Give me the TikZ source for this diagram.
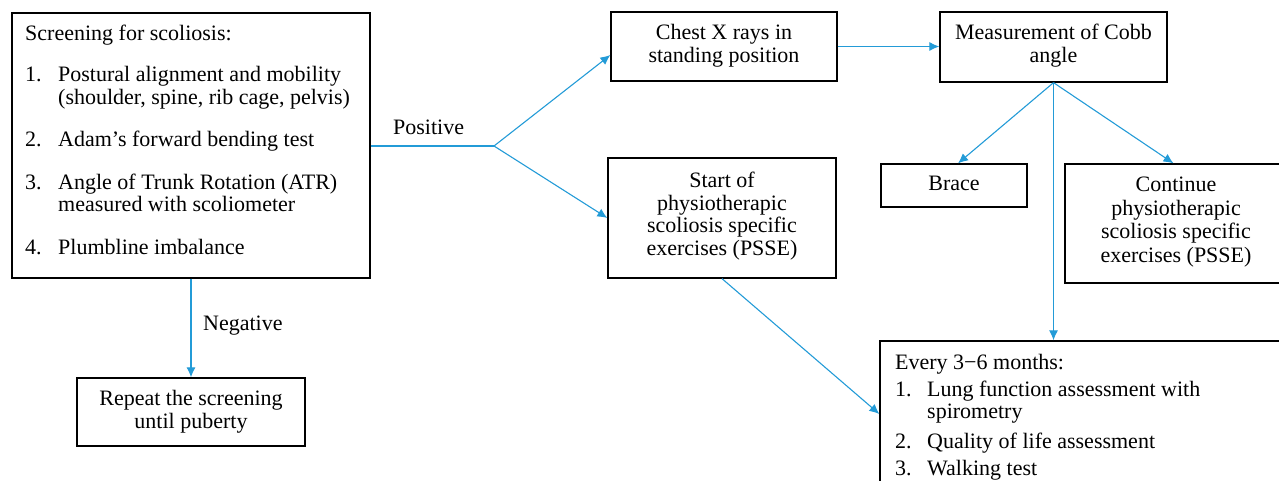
\documentclass[tikz,border=0pt]{standalone}
\usepackage{fontspec}
\setmainfont{Liberation Serif}
\usetikzlibrary{arrows.meta,calc}
\definecolor{flowblue}{RGB}{35,155,215}
\tikzset{
  box/.style={draw=black,line width=1.3pt,rectangle,inner sep=0pt,fill=none},
  txt/.style={inner sep=0pt,font=\fontsize{22}{22.5}\selectfont},
  conn/.style={draw=flowblue,line width=1.1pt},
  arr/.style={conn,-{Latex[length=10pt,width=9pt]}}
}
\begin{document}
\begin{tikzpicture}[x=1pt,y=-1pt]
\useasboundingbox (0,0) rectangle (1279,481);
\clip (0,0) rectangle (1279,481);
% boxes
\node[box,minimum width=358pt,minimum height=265pt] (scr) at (191,145.5) {};
\node[box,minimum width=228pt,minimum height=68pt] (rep) at (191,412) {};
\node[box,minimum width=226pt,minimum height=69pt] (chest) at (724,46.5) {};
\node[box,minimum width=227pt,minimum height=70pt] (cobb) at (1053.5,47) {};
\node[box,minimum width=228pt,minimum height=120pt] (psse) at (722,218) {};
\node[box,minimum width=146pt,minimum height=43pt] (brace) at (954,185.5) {};
\node[box,minimum width=217pt,minimum height=119pt] (cont) at (1173.5,223.5) {};
\node[box,minimum width=410pt,minimum height=146pt] (every) at (1085,414) {};
% texts
\node[txt,anchor=base west] (scrt) at (25,40.5) {\begin{tabular}[t]{@{}p{33pt}@{}l@{}}
\multicolumn{2}{@{}l@{}}{Screening for scoliosis:}\\[19pt]
1. & Postural alignment and mobility\\
   & (shoulder, spine, rib cage, pelvis)\\[20pt]
2. & Adam's forward bending test\\[20pt]
3. & Angle of Trunk Rotation (ATR)\\
   & measured with scoliometer\\[20.5pt]
4. & Plumbline imbalance
\end{tabular}};
\node[txt,anchor=base] (rept) at (191,405.5) {\begin{tabular}[t]{@{}c@{}}Repeat the screening\\ until puberty\end{tabular}};
\node[txt,anchor=base] (chestt) at (724,40) {\begin{tabular}[t]{@{}c@{}}Chest X rays in\\ standing position\end{tabular}};
\node[txt,anchor=base] (cobbt) at (1053.5,40) {\begin{tabular}[t]{@{}c@{}}Measurement of Cobb\\ angle\end{tabular}};
\node[txt,anchor=base] (psset) at (722,188) {\begin{tabular}[t]{@{}c@{}}Start of\\ physiotherapic\\ scoliosis specific\\ exercises (PSSE)\end{tabular}};
\node[txt,anchor=base] (bracet) at (954,191) {Brace};
\node[txt,anchor=base] (contt) at (1176,192) {\begin{tabular}[t]{@{}c@{}}Continue\\[1pt] physiotherapic\\[1pt] scoliosis specific\\[1pt] exercises (PSSE)\end{tabular}};
\node[txt,anchor=base west] (everyt) at (895,369.5) {\begin{tabular}[t]{@{}p{32pt}@{}l@{}}
\multicolumn{2}{@{}l@{}}{Every 3−6 months:}\\[4pt]
1. & Lung function assessment with\\
   & spirometry\\[7.5pt]
2. & Quality of life assessment\\[4.5pt]
3. & Walking test
\end{tabular}};
\node[txt,anchor=base west] (pos) at (393,135) {Positive};
\node[txt,anchor=base west] (neg) at (203,330) {Negative};
% connectors
\coordinate (br) at (494,146);
\draw[conn] (scr.east |- br) -- (br);
\draw[arr] (br) -- ($(chest.west)+(0,8.5)$);
\draw[arr] (br) -- (psse.west);
\draw[arr] (chest.east) -- (cobb.west |- chest.east);
\draw[arr] (cobb.south) -- ($(brace.north)+(4,0)$);
\draw[arr] (cobb.south) -- (cont.north);
\draw[arr] (cobb.south) -- (cobb.south |- every.north);
\draw[arr] (psse.south) -- (every.west);
\draw[arr] (scr.south) -- (rep.north);
\end{tikzpicture}
\end{document}
